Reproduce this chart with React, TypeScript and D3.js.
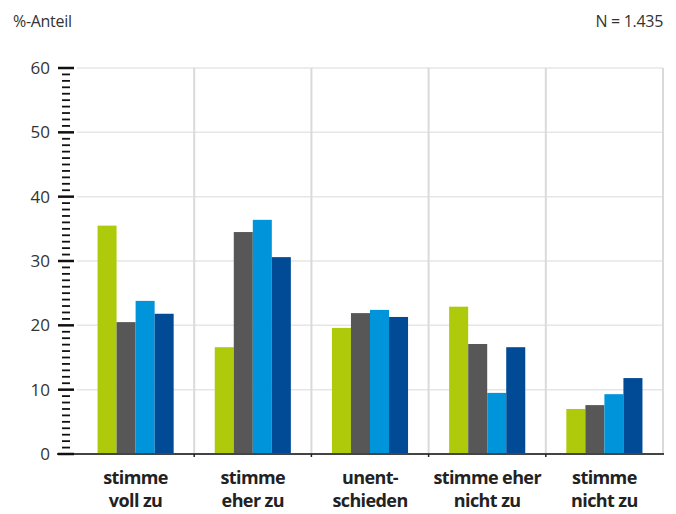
import React from "react";
import * as d3 from "d3";

const categories = [
  ["stimme", "voll zu"],
  ["stimme", "eher zu"],
  ["unent-", "schieden"],
  ["stimme eher", "nicht zu"],
  ["stimme", "nicht zu"],
];
const seriesNames = ["s1", "s2", "s3", "s4"];
const seriesColors = ["#afca0b", "#575757", "#0095db", "#004a96"];
const values = [
  [35.5, 20.5, 23.8, 21.8],
  [16.6, 34.5, 36.4, 30.6],
  [19.6, 21.9, 22.4, 21.3],
  [22.9, 17.1, 9.5, 16.6],
  [7.0, 7.6, 9.3, 11.8],
];
const yTicks = [0, 10, 20, 30, 40, 50, 60];
const minorTicks = d3.range(0, 61, 1);

const W = 676;
const H = 514;
const left = 77;
const right = 663;
const top = 68;
const bottom = 454;

export default function App() {
  const x = d3
    .scaleBand<number>()
    .domain(d3.range(categories.length))
    .range([left, right])
    .paddingInner(0)
    .paddingOuter(0);
  const inner = d3
    .scaleBand<number>()
    .domain(d3.range(seriesNames.length))
    .range([0, x.bandwidth()])
    .paddingOuter(1.08)
    .paddingInner(0);
  const y = d3.scaleLinear().domain([0, 60]).range([bottom, top]);
  const font = "'Open Sans', sans-serif";

  return (
    <svg
      width={W}
      height={H}
      style={{ position: "absolute", left: 0, top: 0, background: "#fff" }}
      fontFamily={font}
    >
      <text x={13} y={27} fontSize={16} fill="#333" letterSpacing={-0.3}>%-Anteil</text>
      <text x={663} y={27} fontSize={16} fill="#333" textAnchor="end" letterSpacing={-0.3}>N = 1.435</text>

      {yTicks.slice(1).map((t) => (
        <line key={"g" + t} x1={left} x2={right} y1={y(t)} y2={y(t)} stroke="#e6e6e6" strokeWidth={1.5} />
      ))}
      {d3.range(1, categories.length + 1).map((i) => {
        const xx = i < categories.length ? x(i)! : right;
        return <line key={"v" + i} x1={xx} x2={xx} y1={top} y2={bottom} stroke="#dadada" strokeWidth={2} />;
      })}

      {values.map((row, ci) =>
        row.map((v, si) => (
          <rect
            key={ci + "-" + si}
            x={x(ci)! + inner(si)!}
            y={y(v)}
            width={inner.bandwidth()}
            height={y(0) - y(v)}
            fill={seriesColors[si]}
          />
        ))
      )}

      <line x1={57} x2={664} y1={bottom} y2={bottom} stroke="#444" strokeWidth={2} />
      {d3.range(1, categories.length).map((i) => (
        <line key={"bt" + i} x1={x(i)!} x2={x(i)!} y1={bottom} y2={bottom + 3} stroke="#222" strokeWidth={1.5} />
      ))}

      {minorTicks.map((t) =>
        t % 10 === 0 ? (
          <line key={"mt" + t} x1={58} x2={74} y1={y(t)} y2={y(t)} stroke="#111" strokeWidth={2.5} />
        ) : (
          <line key={"mt" + t} x1={62} x2={70} y1={y(t)} y2={y(t)} stroke="#111" strokeWidth={1.8} />
        )
      )}
      {yTicks.map((t) => (
        <text key={"yl" + t} x={50} y={y(t)} dy="0.35em" fontSize={17} fill="#333" textAnchor="end">
          {t}
        </text>
      ))}

      {categories.map((lines, ci) => (
        <text
          key={"c" + ci}
          x={x(ci)! + x.bandwidth() / 2}
          y={484}
          fontSize={18}
          fontWeight={700}
          fill="#222"
          textAnchor="middle"
          letterSpacing={-0.6}
        >
          <tspan x={x(ci)! + x.bandwidth() / 2} dy={0}>{lines[0]}</tspan>
          <tspan x={x(ci)! + x.bandwidth() / 2} dy={23}>{lines[1]}</tspan>
        </text>
      ))}
    </svg>
  );
}
